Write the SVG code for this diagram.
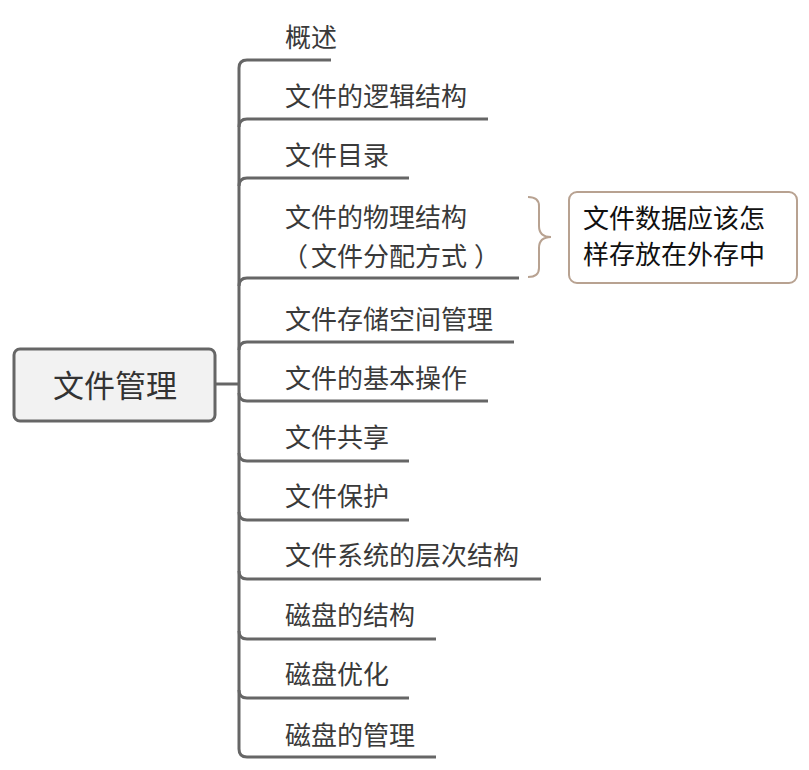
<svg xmlns="http://www.w3.org/2000/svg" width="809" height="770" viewBox="0 0 809 770">
<style>
.ln{fill:none;stroke:#666;stroke-width:3}
.t{font-family:"Noto Sans CJK SC","Noto Sans",sans-serif;font-size:26px;fill:#3a3a3a}
.rt{font-family:"Noto Sans CJK SC","Noto Sans",sans-serif;font-size:31px;fill:#333;text-anchor:middle}
.ct{font-family:"Noto Sans CJK SC","Noto Sans",sans-serif;font-size:26px;fill:#111}
</style>
<rect width="809" height="770" fill="#fff"/>
<g id="connectors">
<path class="ln" d="M215,384 H239"/>
<path class="ln" d="M239,68 V749"/>
<path class="ln" d="M239,68 Q239,60 247,60 H331"/>
<path class="ln" d="M239,127 Q239,119 247,119 H488"/>
<path class="ln" d="M239,186 Q239,178 247,178 H409"/>
<path class="ln" d="M239,286 Q239,278 247,278 H519"/>
<path class="ln" d="M239,350 Q239,342 247,342 H514"/>
<path class="ln" d="M239,393 Q239,401 247,401 H488"/>
<path class="ln" d="M239,453 Q239,461 247,461 H409"/>
<path class="ln" d="M239,512 Q239,520 247,520 H409"/>
<path class="ln" d="M239,571 Q239,579 247,579 H541"/>
<path class="ln" d="M239,631 Q239,639 247,639 H436"/>
<path class="ln" d="M239,690 Q239,698 247,698 H409"/>
<path class="ln" d="M239,749 Q239,757 247,757 H436"/>
<path d="M528,197 Q539,197 539,206 V226 Q539,237 551,237 Q539,237 539,248 V268 Q539,277 528,277" fill="none" stroke="#b8a291" stroke-width="2"/>
</g>
<g id="root">
<rect x="14" y="349" width="201" height="72" rx="6" fill="#f2f2f2" stroke="#666" stroke-width="3"/>
<text class="rt" x="115" y="397">文件管理</text>
</g>
<g id="n1"><text class="t" x="285" y="47">概述</text></g>
<g id="n2"><text class="t" x="285" y="106">文件的逻辑结构</text></g>
<g id="n3"><text class="t" x="285" y="165">文件目录</text></g>
<g id="n4"><text class="t" x="285" y="227">文件的物理结构</text><text class="t" y="266"><tspan x="282">（</tspan><tspan x="311">文件分配方式</tspan><tspan x="474">）</tspan></text></g>
<g id="n5"><text class="t" x="285" y="329">文件存储空间管理</text></g>
<g id="n6"><text class="t" x="285" y="388">文件的基本操作</text></g>
<g id="n7"><text class="t" x="285" y="447">文件共享</text></g>
<g id="n8"><text class="t" x="285" y="506">文件保护</text></g>
<g id="n9"><text class="t" x="285" y="565">文件系统的层次结构</text></g>
<g id="n10"><text class="t" x="285" y="625">磁盘的结构</text></g>
<g id="n11"><text class="t" x="285" y="684">磁盘优化</text></g>
<g id="n12"><text class="t" x="285" y="745">磁盘的管理</text></g>
<g id="callout">
<rect x="569" y="192" width="228" height="91" rx="8" fill="#fff" stroke="#b8a291" stroke-width="2"/>
<text class="ct" x="583" y="228">文件数据应该怎</text>
<text class="ct" x="583" y="264">样存放在外存中</text>
</g>
</svg>
